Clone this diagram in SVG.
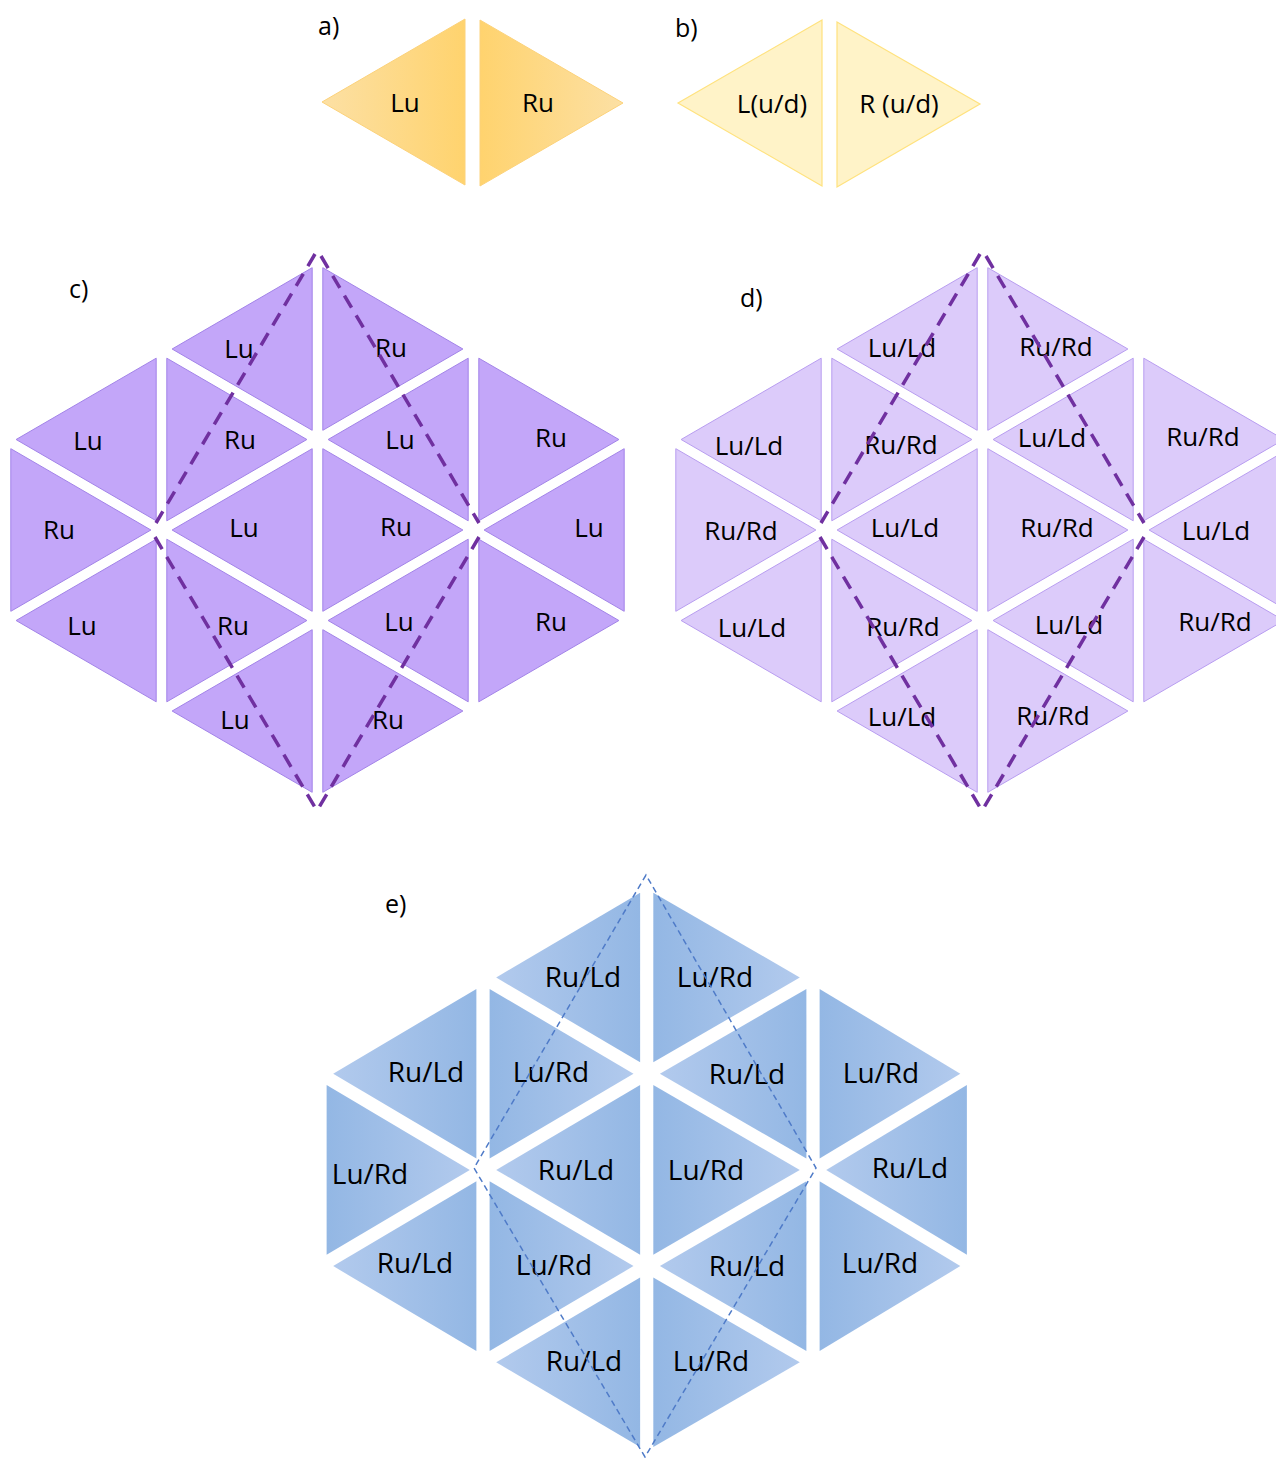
<svg xmlns="http://www.w3.org/2000/svg" width="1276" height="1458" viewBox="0 0 1276 1458">
<defs>
<linearGradient id="aL" x1="0" y1="0" x2="1" y2="0"><stop offset="0" stop-color="#FCE0A4"/><stop offset="1" stop-color="#FFD36E"/></linearGradient>
<linearGradient id="aR" x1="0" y1="0" x2="1" y2="0"><stop offset="0" stop-color="#FFD36E"/><stop offset="1" stop-color="#FCE0A4"/></linearGradient>
<linearGradient id="eL" x1="0" y1="0" x2="1" y2="0"><stop offset="0" stop-color="#B2CAED"/><stop offset="1" stop-color="#93B7E4"/></linearGradient>
<linearGradient id="eR" x1="0" y1="0" x2="1" y2="0"><stop offset="0" stop-color="#93B7E4"/><stop offset="1" stop-color="#B2CAED"/></linearGradient>
</defs>
<style>
text{font-family:"Open Sans","Noto Sans","Liberation Sans",sans-serif;fill:#000;text-anchor:middle}
.lbl{font-size:25px;text-anchor:start}
.t{font-size:26px}
.te{font-size:28px}
.a polygon{stroke:#FCD27A;stroke-width:1}
.b polygon{fill:#FFF3C8;stroke:#FFE27E;stroke-width:1.2}
.c polygon{fill:#C3A6F9;stroke:#A283E8;stroke-width:1}
.d polygon{fill:#DCCBFA;stroke:#B89DF0;stroke-width:1}
.eL polygon{fill:url(#eL)}
.eR polygon{fill:url(#eR)}
.dash{fill:none;stroke:#7030A0;stroke-width:3.5;stroke-dasharray:14 9}
.dashe{fill:none;stroke:#4F7BC8;stroke-width:1.5;stroke-dasharray:6 4}
</style>
<rect width="1276" height="1458" fill="#fff"/>

<g id="labels">
<text class="lbl" x="318" y="35">a)</text>
<text class="lbl" x="675" y="37">b)</text>
<text class="lbl" x="69" y="298">c)</text>
<text class="lbl" x="740" y="307">d)</text>
<text class="lbl" x="385" y="913">e)</text>
</g>

<g id="panel-a" class="a">
<g id="a-Lu"><polygon points="322,102 465,19 465,185" fill="url(#aL)"/><text class="t" x="405" y="112">Lu</text></g>
<g id="a-Ru"><polygon points="480,20 480,186 623,103" fill="url(#aR)"/><text class="t" x="538" y="112">Ru</text></g>
</g>
<g id="panel-b" class="b">
<g id="b-L"><polygon points="678,103 822,20 822,186"/><text class="t" x="772" y="113">L(u/d)</text></g>
<g id="b-R"><polygon points="837,22 837,187 980,104"/><text class="t" x="899" y="113">R (u/d)</text></g>
</g>

<g id="panel-c" class="c">
<g id="c-1-2"><polygon points="16.1,439.5 156.2,358.2 156.2,520.8"/><text class="t" x="88" y="450">Lu</text></g>
<g id="c-1-3"><polygon points="10.8,448.7 10.8,611.3 150.9,530"/><text class="t" x="59" y="539">Ru</text></g>
<g id="c-1-4"><polygon points="16.1,620.5 156.2,539.2 156.2,701.8"/><text class="t" x="82" y="635">Lu</text></g>
<g id="c-2-1"><polygon points="172.1,349 312.2,267.7 312.2,430.3"/><text class="t" x="239" y="358">Lu</text></g>
<g id="c-2-2"><polygon points="166.8,358.2 166.8,520.8 306.9,439.5"/><text class="t" x="240" y="449">Ru</text></g>
<g id="c-2-3"><polygon points="172.1,530 312.2,448.7 312.2,611.3"/><text class="t" x="244" y="537">Lu</text></g>
<g id="c-2-4"><polygon points="166.8,539.2 166.8,701.8 306.9,620.5"/><text class="t" x="233" y="635">Ru</text></g>
<g id="c-2-5"><polygon points="172.1,711 312.2,629.7 312.2,792.3"/><text class="t" x="235" y="729">Lu</text></g>
<g id="c-3-1"><polygon points="322.8,267.7 322.8,430.3 462.9,349"/><text class="t" x="391" y="357">Ru</text></g>
<g id="c-3-2"><polygon points="328.1,439.5 468.2,358.2 468.2,520.8"/><text class="t" x="400" y="449">Lu</text></g>
<g id="c-3-3"><polygon points="322.8,448.7 322.8,611.3 462.9,530"/><text class="t" x="396" y="536">Ru</text></g>
<g id="c-3-4"><polygon points="328.1,620.5 468.2,539.2 468.2,701.8"/><text class="t" x="399" y="631">Lu</text></g>
<g id="c-3-5"><polygon points="322.8,629.7 322.8,792.3 462.9,711"/><text class="t" x="388" y="729">Ru</text></g>
<g id="c-4-2"><polygon points="478.8,358.2 478.8,520.8 618.9,439.5"/><text class="t" x="551" y="447">Ru</text></g>
<g id="c-4-3"><polygon points="484.1,530 624.2,448.7 624.2,611.3"/><text class="t" x="589" y="537">Lu</text></g>
<g id="c-4-4"><polygon points="478.8,539.2 478.8,701.8 618.9,620.5"/><text class="t" x="551" y="631">Ru</text></g>
</g>

<g id="panel-d" class="d">
<g id="d-1-2"><polygon points="681.1,439.5 821.2,358.2 821.2,520.8"/><text class="t" x="749" y="455">Lu/Ld</text></g>
<g id="d-1-3"><polygon points="675.8,448.7 675.8,611.3 815.9,530"/><text class="t" x="741" y="540">Ru/Rd</text></g>
<g id="d-1-4"><polygon points="681.1,620.5 821.2,539.2 821.2,701.8"/><text class="t" x="752" y="637">Lu/Ld</text></g>
<g id="d-2-1"><polygon points="837.1,349 977.2,267.7 977.2,430.3"/><text class="t" x="902" y="357">Lu/Ld</text></g>
<g id="d-2-2"><polygon points="831.8,358.2 831.8,520.8 971.9,439.5"/><text class="t" x="901" y="454">Ru/Rd</text></g>
<g id="d-2-3"><polygon points="837.1,530 977.2,448.7 977.2,611.3"/><text class="t" x="905" y="537">Lu/Ld</text></g>
<g id="d-2-4"><polygon points="831.8,539.2 831.8,701.8 971.9,620.5"/><text class="t" x="903" y="636">Ru/Rd</text></g>
<g id="d-2-5"><polygon points="837.1,711 977.2,629.7 977.2,792.3"/><text class="t" x="902" y="726">Lu/Ld</text></g>
<g id="d-3-1"><polygon points="987.8,267.7 987.8,430.3 1127.9,349"/><text class="t" x="1056" y="356">Ru/Rd</text></g>
<g id="d-3-2"><polygon points="993.1,439.5 1133.2,358.2 1133.2,520.8"/><text class="t" x="1052" y="447">Lu/Ld</text></g>
<g id="d-3-3"><polygon points="987.8,448.7 987.8,611.3 1127.9,530"/><text class="t" x="1057" y="537">Ru/Rd</text></g>
<g id="d-3-4"><polygon points="993.1,620.5 1133.2,539.2 1133.2,701.8"/><text class="t" x="1069" y="634">Lu/Ld</text></g>
<g id="d-3-5"><polygon points="987.8,629.7 987.8,792.3 1127.9,711"/><text class="t" x="1053" y="725">Ru/Rd</text></g>
<g id="d-4-2"><polygon points="1143.8,358.2 1143.8,520.8 1283.9,439.5"/><text class="t" x="1203" y="446">Ru/Rd</text></g>
<g id="d-4-3"><polygon points="1149.1,530 1289.2,448.7 1289.2,611.3"/><text class="t" x="1216" y="540">Lu/Ld</text></g>
<g id="d-4-4"><polygon points="1143.8,539.2 1143.8,701.8 1283.9,620.5"/><text class="t" x="1215" y="631">Ru/Rd</text></g>
</g>

<g id="panel-e">
<g id="e-1-2" class="eL"><polygon points="333.2,1073.7 476.4,988.9 476.4,1158.5"/><text class="te" x="426" y="1082">Ru/Ld</text></g>
<g id="e-1-3" class="eR"><polygon points="326.6,1085.1 326.6,1254.7 469.8,1169.9"/><text class="te" x="370" y="1184">Lu/Rd</text></g>
<g id="e-1-4" class="eL"><polygon points="333.2,1266.1 476.4,1181.3 476.4,1350.9"/><text class="te" x="415" y="1273">Ru/Ld</text></g>
<g id="e-2-1" class="eL"><polygon points="496.2,977.5 640.1,892.7 640.1,1062.3"/><text class="te" x="583" y="987">Ru/Ld</text></g>
<g id="e-2-2" class="eR"><polygon points="489.6,988.9 489.6,1158.5 633.5,1073.7"/><text class="te" x="551" y="1082">Lu/Rd</text></g>
<g id="e-2-3" class="eL"><polygon points="496.2,1169.9 640.1,1085.1 640.1,1254.7"/><text class="te" x="576" y="1180">Ru/Ld</text></g>
<g id="e-2-4" class="eR"><polygon points="489.6,1181.3 489.6,1350.9 633.5,1266.1"/><text class="te" x="554" y="1275">Lu/Rd</text></g>
<g id="e-2-5" class="eL"><polygon points="496.2,1362.3 640.1,1277.5 640.1,1447.1"/><text class="te" x="584" y="1371">Ru/Ld</text></g>
<g id="e-3-1" class="eR"><polygon points="653.3,892.7 653.3,1062.3 799.8,977.5"/><text class="te" x="715" y="987">Lu/Rd</text></g>
<g id="e-3-2" class="eL"><polygon points="659.9,1073.7 806.4,988.9 806.4,1158.5"/><text class="te" x="747" y="1084">Ru/Ld</text></g>
<g id="e-3-3" class="eR"><polygon points="653.3,1085.1 653.3,1254.7 799.8,1169.9"/><text class="te" x="706" y="1180">Lu/Rd</text></g>
<g id="e-3-4" class="eL"><polygon points="659.9,1266.1 806.4,1181.3 806.4,1350.9"/><text class="te" x="747" y="1276">Ru/Ld</text></g>
<g id="e-3-5" class="eR"><polygon points="653.3,1277.5 653.3,1447.1 799.8,1362.3"/><text class="te" x="711" y="1371">Lu/Rd</text></g>
<g id="e-4-2" class="eR"><polygon points="819.6,988.9 819.6,1158.5 960.3,1073.7"/><text class="te" x="881" y="1083">Lu/Rd</text></g>
<g id="e-4-3" class="eL"><polygon points="826.2,1169.9 966.9,1085.1 966.9,1254.7"/><text class="te" x="910" y="1178">Ru/Ld</text></g>
<g id="e-4-4" class="eR"><polygon points="819.6,1181.3 819.6,1350.9 960.3,1266.1"/><text class="te" x="880" y="1273">Lu/Rd</text></g>
</g>

<g id="connectors">
<path class="dash" d="M315,254 L156,523 M155,537 L316,809 M321,256 L479,523 M479,537 L318,809"/>
<path class="dash" d="M980,254 L821,523 M820,537 L981,809 M986,256 L1144,523 M1144,537 L983,809"/>
<path class="dashe" d="M646,875 L474,1168 L645,1457 L816,1168 Z"/>
</g>
</svg>
